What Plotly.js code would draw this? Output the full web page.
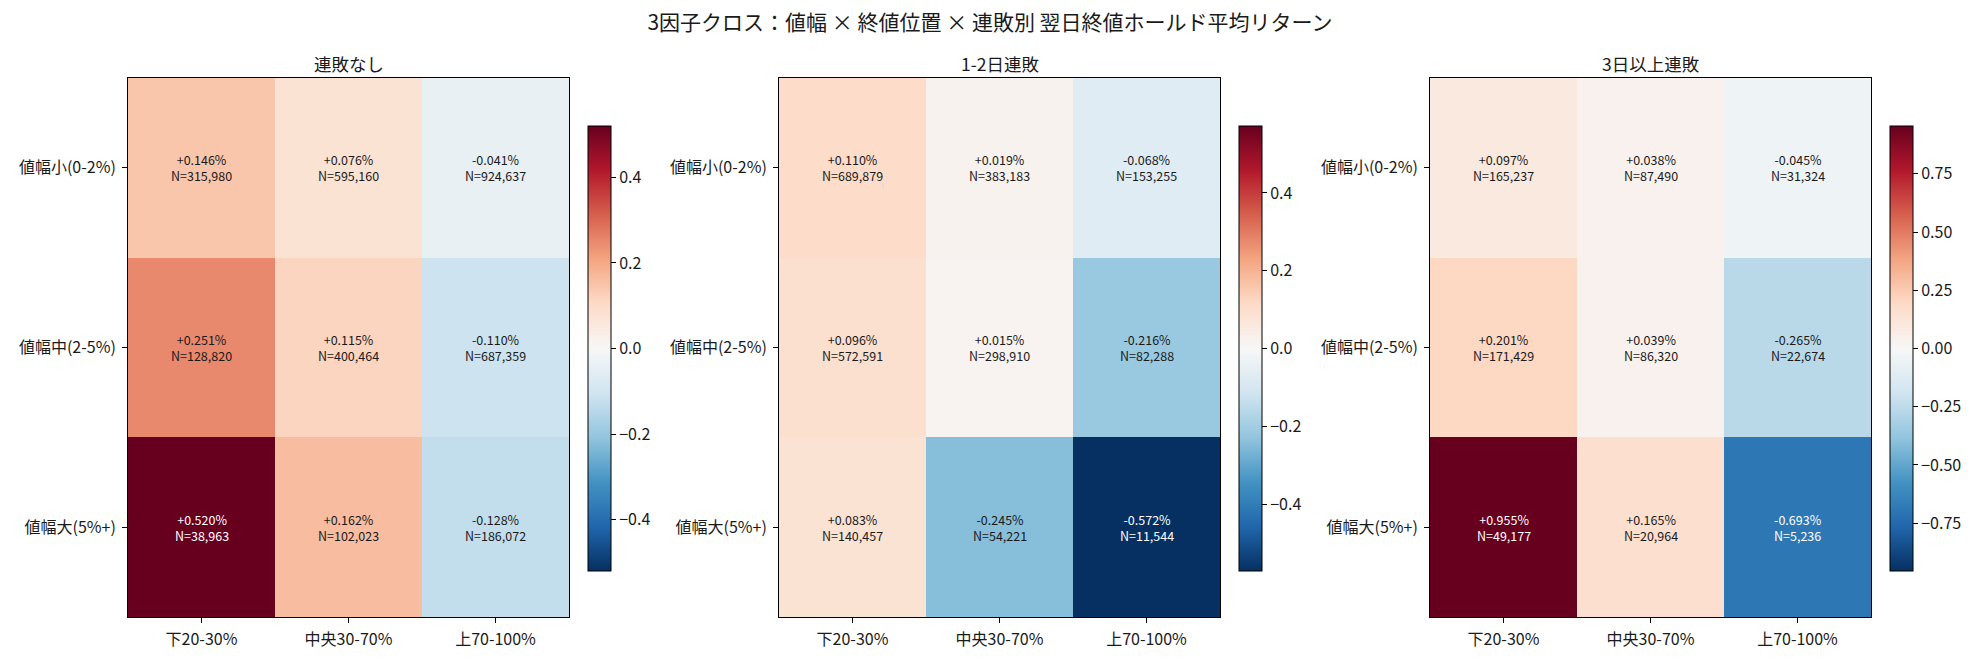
<!DOCTYPE html>
<html>
<head>
<meta charset="utf-8">
<script src="https://cdn.plot.ly/plotly-3.0.1.min.js"></script>
<style>
  html, body { margin: 0; padding: 0; background: #fff; }
  #chart { width: 1980px; height: 660px; }
</style>
</head>
<body>
<div id="chart"></div>
<script>
// Categories
const closePositions = ['下20-30%', '中央30-70%', '上70-100%'];
const rangeBuckets = ['値幅小(0-2%)', '値幅中(2-5%)', '値幅大(5%+)'];
const streakGroups = ['連敗なし', '1-2日連敗', '3日以上連敗'];

// Mean next-day return (%) — rows: range bucket, cols: close position
const retNoStreak = [
  [0.146, 0.076, -0.041],
  [0.251, 0.115, -0.110],
  [0.520, 0.162, -0.128]
];
const retShortStreak = [
  [0.110, 0.019, -0.068],
  [0.096, 0.015, -0.216],
  [0.083, -0.245, -0.572]
];
const retLongStreak = [
  [0.097, 0.038, -0.045],
  [0.201, 0.039, -0.265],
  [0.955, 0.165, -0.693]
];

// Sample counts
const countNoStreak = [
  [315980, 595160, 924637],
  [128820, 400464, 687359],
  [38963, 102023, 186072]
];
const countShortStreak = [
  [689879, 383183, 153255],
  [572591, 298910, 82288],
  [140457, 54221, 11544]
];
const countLongStreak = [
  [165237, 87490, 31324],
  [171429, 86320, 22674],
  [49177, 20964, 5236]
];

const panels = [
  {ret: retNoStreak, cnt: countNoStreak, tick: 0.2, fmt: '.1f'},
  {ret: retShortStreak, cnt: countShortStreak, tick: 0.2, fmt: '.1f'},
  {ret: retLongStreak, cnt: countLongStreak, tick: 0.25, fmt: '.2f'}
];

// Diverging map (RdBu reversed)
const rdbuR = [
  '#053061', '#2166ac', '#4393c3', '#92c5de', '#d1e5f0', '#f7f7f7',
  '#fddbc7', '#f4a582', '#d6604d', '#b2182b', '#67001f'
].map((c, i) => [i / 10, c]);

const W = 1980, H = 660;
const FONT = '"Noto Sans CJK JP", "Noto Sans", sans-serif';
const TXT = '#1a1a1a';
const axLeft = [128, 779, 1430];
const axWidth = 441;
const axTop = 78, axBottom = 617;
const cbOffset = 460, cbThick = 23, cbTop = 126, cbBottom = 571;

const traces = [];
const annotations = [];
const layout = {
  width: W, height: H,
  margin: {l: 0, r: 0, t: 0, b: 0},
  paper_bgcolor: '#fff', plot_bgcolor: '#fff',
  font: {family: FONT, color: TXT, size: 15},
  title: {
    text: '3因子クロス：値幅 × 終値位置 × 連敗別 翌日終値ホールド平均リターン',
    x: 0.5, xanchor: 'center', y: 1 - 23 / H, yanchor: 'middle',
    font: {size: 21, color: TXT, family: FONT}
  },
  showlegend: false
};

panels.forEach((p, i) => {
  const sfx = i === 0 ? '' : String(i + 1);
  const vmax = Math.max(...p.ret.flat().map(Math.abs));
  const x0 = axLeft[i] / W, x1 = (axLeft[i] + axWidth) / W;

  traces.push({
    type: 'heatmap',
    x: closePositions, y: rangeBuckets, z: p.ret,
    xaxis: 'x' + sfx, yaxis: 'y' + sfx,
    colorscale: rdbuR, zmin: -vmax, zmax: vmax,
    hoverinfo: 'skip',
    colorbar: {
      x: (axLeft[i] + cbOffset) / W, xanchor: 'left', xpad: 0, ypad: 0,
      y: 1 - (cbTop + cbBottom) / 2 / H, yanchor: 'middle',
      len: (cbBottom - cbTop) / H, lenmode: 'fraction',
      thickness: cbThick, thicknessmode: 'pixels',
      outlinewidth: 1, outlinecolor: '#000',
      ticks: 'outside', ticklen: 5, tickcolor: '#000',
      dtick: p.tick, tick0: 0, tickformat: p.fmt,
      tickfont: {size: 16, color: TXT, family: FONT}
    }
  });

  const axCommon = {
    showline: true, mirror: true, linecolor: '#000', linewidth: 1,
    ticks: 'outside', ticklen: 5, tickcolor: '#000',
    showgrid: false, zeroline: false, fixedrange: true,
    ticklabelstandoff: 3,
    tickfont: {size: 16, color: TXT, family: FONT}
  };
  layout['xaxis' + sfx] = Object.assign({}, axCommon, {
    domain: [x0, x1], anchor: 'y' + sfx, type: 'category',
    range: [-0.5, 2.5]
  });
  layout['yaxis' + sfx] = Object.assign({}, axCommon, {
    domain: [1 - axBottom / H, 1 - axTop / H], anchor: 'x' + sfx,
    type: 'category', range: [2.5, -0.5]
  });

  // panel title
  annotations.push({
    text: streakGroups[i], xref: 'paper', yref: 'paper',
    x: (x0 + x1) / 2, y: 1 - 63 / H, xanchor: 'center', yanchor: 'middle',
    showarrow: false, font: {size: 17.5, color: TXT, family: FONT}
  });

  // cell labels
  p.ret.forEach((row, r) => {
    row.forEach((v, c) => {
      const sign = v >= 0 ? '+' : '-';
      const txt = sign + Math.abs(v).toFixed(3) + '%<br>N=' +
        p.cnt[r][c].toLocaleString('en-US');
      annotations.push({
        text: txt, xref: 'x' + sfx, yref: 'y' + sfx,
        x: closePositions[c], y: rangeBuckets[r],
        showarrow: false, align: 'center',
        font: {size: 12.5, family: FONT,
               color: Math.abs(v) > 0.6 * vmax ? '#ffffff' : TXT}
      });
    });
  });
});

layout.annotations = annotations;

Plotly.newPlot('chart', traces, layout, {displayModeBar: false, staticPlot: true});
</script>
</body>
</html>
